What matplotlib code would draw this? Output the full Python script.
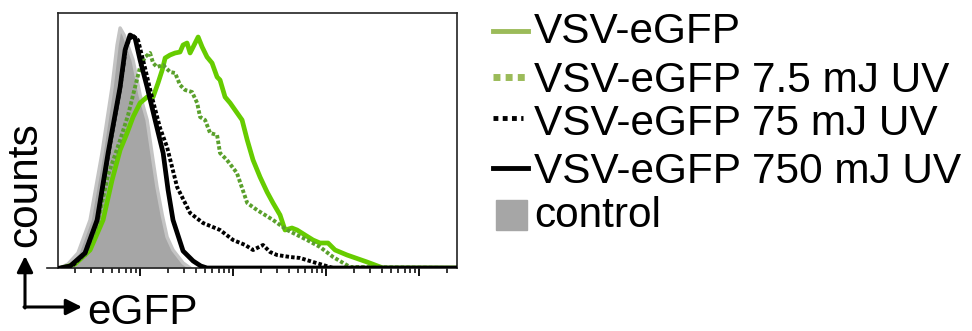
import matplotlib
matplotlib.use('Agg')
import matplotlib.pyplot as plt
from matplotlib.lines import Line2D
from matplotlib.patches import Rectangle
import numpy as np

plt.rcParams['font.family'] = ['Liberation Sans', 'DejaVu Sans']

# eGFP intensity (log axis) and counts (arbitrary units)
ctrl_x = [1.38, 1.68, 2.15, 2.90, 3.90, 5.0, 5.66, 6.1, 6.73, 8.4, 10, 11.9, 13.5,
          15.2, 17.3, 19.5, 22.6, 29, 34.5]
ctrl_y = [0, 4, 15, 48, 115, 181, 223, 240, 233, 208, 173, 148, 113, 81, 53, 31, 18, 5, 0]

uv750_x = [1.38, 1.77, 2.56, 3.45, 4.53, 6.1, 6.9, 7.8, 8.83, 10, 11.9, 14.5, 17.7,
           20, 22.6, 29, 37.2, 45, 52.5, 25600]
uv750_y = [0, 2, 15, 48, 115, 181, 218, 233, 230, 208, 181, 148, 115, 78, 48, 17, 7, 2, 0, 0]

uv75_x = [1.45, 1.86, 2.56, 3.45, 4.53, 6.1, 7.06, 8.2, 9.5, 11.3, 13.5, 16.4, 19.5,
          25, 34.5, 47.5, 72.4, 100, 135, 164, 210, 250, 297, 410, 525, 724, 929,
          1190, 25600]
uv75_y = [0, 2, 15, 47, 113, 180, 222, 233, 228, 200, 170, 140, 121, 81, 55, 45, 38,
          28, 23, 18, 23, 16, 13, 11, 10, 6, 3, 0, 0]

uv7_x = [1.38, 1.86, 2.56, 3.45, 4.53, 6.1, 7.43, 8.83, 10, 11.3, 12.8, 13.8, 15.2,
         17.7, 21.0, 23.8, 26.9, 30.5, 36.2, 41.1, 44.2, 50, 56.6, 67.3, 72.4, 86,
         110, 142, 181, 269, 381, 625, 861, 1190, 1810, 25600]
uv7_y = [0, 3, 13, 43, 93, 128, 153, 181, 201, 211, 215, 205, 201, 203, 196, 195,
         183, 178, 176, 165, 151, 148, 135, 133, 115, 108, 95, 65, 58, 48, 38, 28,
         21, 11, 1, 0]

vsv_x = [1.45, 2.0, 2.90, 4.0, 5.0, 6.1, 7.25, 8.4, 10, 11.9, 13.8, 15.6, 17.3, 18.6,
         21.0, 23.8, 26.9, 29, 32, 34.5, 37.2, 42.1, 46.5, 52.5, 59.4, 67.3, 72.4,
         82, 93, 105, 125, 142, 164, 195, 232, 269, 320, 362, 430, 488, 594, 724,
         861, 1050, 1250, 1680, 2760, 4100, 25600]
vsv_y = [0, 4, 18, 48, 88, 118, 135, 151, 165, 171, 171, 185, 198, 210, 213, 215,
         216, 223, 225, 215, 221, 231, 221, 211, 205, 191, 188, 171, 165, 158, 148,
         128, 108, 91, 76, 65, 53, 38, 40, 38, 33, 28, 25, 25, 18, 13, 6, 0, 0]

labels = ['VSV-eGFP', 'VSV-eGFP 7.5 mJ UV', 'VSV-eGFP 75 mJ UV',
          'VSV-eGFP 750 mJ UV', 'control']

green = '#66cc00'
green_dot = '#5aa02c'
leg_green = '#9bbb59'
gray = '#a6a6a6'
fs = 30.5

fig = plt.figure(figsize=(9.72, 3.31), dpi=100)
W, H = 972.0, 331.0
ax = fig.add_axes([58 / W, 63 / H, 399 / W, 255 / H])

ax.fill_between(ctrl_x, ctrl_y, 0, color=gray, lw=0, zorder=1)
ax.plot(ctrl_x, ctrl_y, color='#c4c4c4', lw=2.5, zorder=1)
ax.plot(vsv_x, vsv_y, color=green, lw=3.4, zorder=2)
ax.plot(uv7_x, uv7_y, color=green_dot, lw=2.8, ls=(0, (0.9, 0.55)), zorder=3)
ax.plot(uv750_x, uv750_y, color='black', lw=3.4, zorder=4)
ax.plot(uv75_x, uv75_y, color='black', lw=2.8, ls=(0, (0.9, 0.55)), zorder=5)

ax.set_xscale('log')
ax.set_xlim(1.31, 25600)
ax.set_ylim(0, 255)
ax.set_yticks([])
ax.tick_params(axis='x', which='major', direction='out', length=6, width=1.3,
               labelbottom=False)
ax.tick_params(axis='x', which='minor', direction='out', length=3.5, width=1.1)
for s in ax.spines.values():
    s.set_linewidth(1.2)
    s.set_color('#222222')
ax.add_line(Line2D([-0.028, 0], [0, 0], transform=ax.transAxes, color='#222222',
                   lw=1.2, clip_on=False))

# axis arrows and labels
ap = dict(arrowstyle='-|>', lw=2.2, color='black', mutation_scale=24,
          shrinkA=0, shrinkB=0)
ax.annotate('', xy=(25, H - 256), xytext=(25, H - 308), xycoords='figure pixels',
            textcoords='figure pixels', arrowprops=ap)
ax.annotate('', xy=(82, H - 307), xytext=(24, H - 307), xycoords='figure pixels',
            textcoords='figure pixels', arrowprops=ap)
fig.text(87 / W, (H - 324) / H, 'eGFP', fontsize=fs, va='baseline', ha='left')
fig.text(25 / W, (H - 185) / H, 'counts', fontsize=fs, rotation=90,
         ha='center', va='center')

# legend
baselines = [43, 92, 135, 183, 227]
for lab, b in zip(labels, baselines):
    fig.text(534 / W, (H - b) / H, lab, fontsize=fs, va='baseline', ha='left')

fig.add_artist(Line2D([493 / W, 528 / W], [(H - 31) / H] * 2, color=leg_green,
                      lw=3.5, transform=fig.transFigure))
fig.add_artist(Line2D([493 / W, 525 / W], [(H - 77) / H] * 2, color=leg_green,
                      lw=5, ls=(0, (1, 0.75)), transform=fig.transFigure))
fig.add_artist(Line2D([493 / W, 523 / W], [(H - 118) / H] * 2, color='black',
                      lw=3.5, ls=(0, (1, 0.9)), transform=fig.transFigure))
fig.add_artist(Line2D([493 / W, 528 / W], [(H - 168) / H] * 2, color='black',
                      lw=3.5, transform=fig.transFigure))
fig.add_artist(Rectangle((496 / W, (H - 230) / H), 31 / W, 30 / H, color=gray,
                         transform=fig.transFigure))

fig.savefig('out.png', dpi=100)
